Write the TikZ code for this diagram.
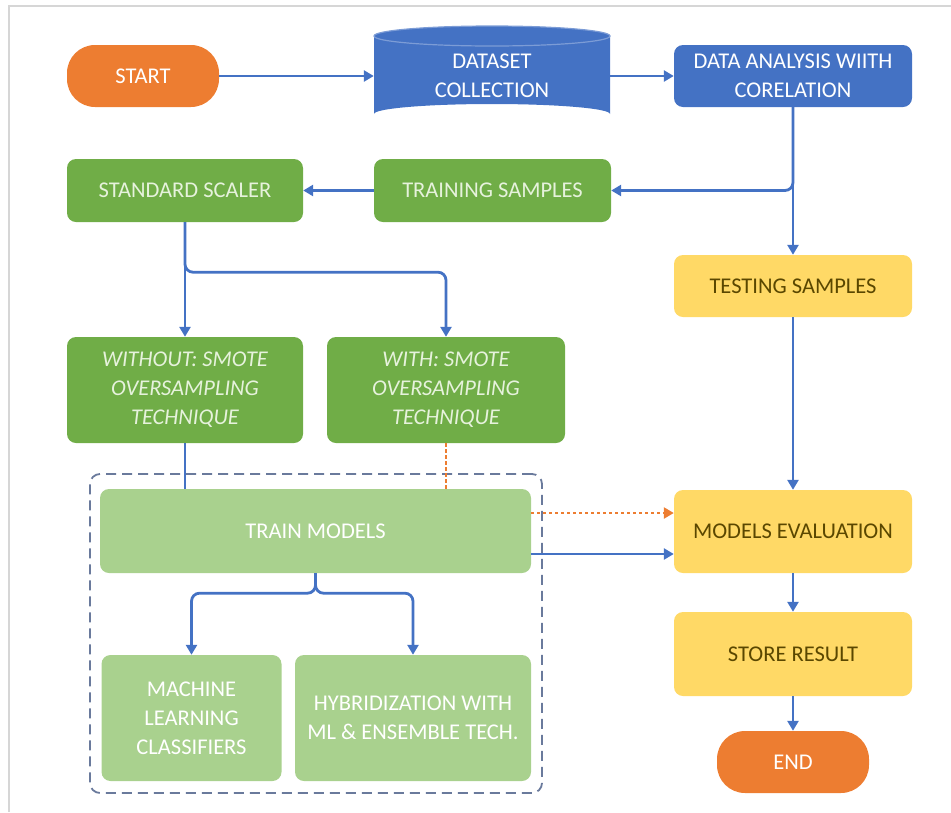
\documentclass[tikz,border=0pt]{standalone}
\usepackage{fontspec}
\setmainfont{Carlito}
\usetikzlibrary{arrows.meta,calc}
\definecolor{cblue}{HTML}{4472C4}
\definecolor{corange}{HTML}{ED7D31}
\definecolor{cgreen}{HTML}{70AD47}
\definecolor{clgreen}{HTML}{A9D18E}
\definecolor{cyellow}{HTML}{FFD966}
\definecolor{cytext}{HTML}{5A4700}
\definecolor{cgtext}{HTML}{E6F2DC}
\definecolor{cdash}{HTML}{6A7A9C}
\definecolor{cframe}{HTML}{D6D6D6}
\begin{document}
\begin{tikzpicture}[x=1pt,y=-1pt,
  every node/.style={font=\fontsize{22.5}{29}\selectfont, align=center, inner sep=0pt},
  boxbase/.style={rounded corners=9pt},
  bluebox/.style={boxbase, fill=cblue, text=white},
  greenbox/.style={boxbase, fill=cgreen, text=cgtext},
  lgbox/.style={boxbase, fill=clgreen, text=white},
  yelbox/.style={boxbase, fill=cyellow, text=cytext},
  termbox/.style={rounded corners=28pt, fill=corange, text=white, minimum width=152pt, minimum height=62pt},
  groupbox/.style={draw=cdash, line width=1.8pt, dash pattern=on 10pt off 6pt, rounded corners=10pt},
  arr/.style={draw=cblue, line width=2.8pt, -{Triangle[length=10pt,width=11pt]}},
  plain/.style={draw=cblue, line width=2.8pt},
  odot/.style={draw=corange, line width=2.4pt, dash pattern=on 3pt off 3pt, -{Triangle[length=10pt,width=11pt]}},
  odash/.style={draw=corange, line width=1.4pt, dash pattern=on 4pt off 2pt}
]
\useasboundingbox (0,0) rectangle (951,812);
\draw[cframe, line width=1.5pt] (9,812) -- (9,6) -- (951,6);

% cylinder
\fill[cblue] (374,36) -- (374,114) arc[start angle=180,end angle=360,x radius=118,y radius=10] -- (610,36) arc[start angle=0,end angle=180,x radius=118,y radius=10] -- cycle;
\fill[cblue] (492,36) ellipse[x radius=118,y radius=10];
\draw[cblue!70!white, line width=1.2pt] (492,36) ellipse[x radius=118,y radius=10];

\node[termbox] (start) at (143,76) {START};
\node[text=white, minimum width=236pt, minimum height=84pt] (dataset) at (492,76) {DATASET\\COLLECTION};
\node[bluebox, minimum width=238pt, minimum height=62pt] (analysis) at (793,76) {DATA ANALYSIS WIITH\\CORELATION};
\node[greenbox, minimum width=236pt, minimum height=63pt] (scaler) at (185,190.5) {STANDARD SCALER};
\node[greenbox, minimum width=237pt, minimum height=63pt] (training) at (492.5,190.5) {TRAINING SAMPLES};
\node[yelbox, minimum width=238pt, minimum height=62pt] (testing) at (793,286) {TESTING SAMPLES};
\node[greenbox, minimum width=236pt, minimum height=106pt, font=\fontsize{22.5}{29}\selectfont\itshape] (without) at (185,390) {WITHOUT: SMOTE\\OVERSAMPLING\\TECHNIQUE};
\node[greenbox, minimum width=238pt, minimum height=106pt, font=\fontsize{22.5}{29}\selectfont\itshape] (with) at (446,390) {WITH: SMOTE\\OVERSAMPLING\\TECHNIQUE};
\node[groupbox, minimum width=452pt, minimum height=319pt] (group) at (316,633.5) {};
\node[lgbox, minimum width=431pt, minimum height=84pt] (train) at (315.5,531) {TRAIN MODELS};
\node[lgbox, minimum width=180pt, minimum height=126pt] (ml) at (191.5,718) {MACHINE\\LEARNING\\CLASSIFIERS};
\node[lgbox, minimum width=236pt, minimum height=126pt] (hyb) at (413,718) {HYBRIDIZATION WITH\\ML \& ENSEMBLE TECH.};
\node[yelbox, minimum width=238pt, minimum height=83pt] (eval) at (793,531.5) {MODELS EVALUATION};
\node[yelbox, minimum width=238pt, minimum height=84pt] (store) at (793,654) {STORE RESULT};
\node[termbox] (end) at (793,762) {END};

% connectors
\draw[arr] (start.east) -- (start.east -| dataset.west);
\draw[arr] (analysis.west -| dataset.east) -- (analysis.west);
\draw[arr, rounded corners=8pt] (analysis.south) |- (training.east);
\draw[arr] (analysis.south) -- (testing.north);
\draw[arr] (training.west) -- (scaler.east);
\coordinate (br) at ($(scaler.south)+(0,50)$);
\draw[arr] (scaler.south) -- (without.north);
\draw[arr, rounded corners=8pt] (scaler.south) -- (br) -| (with.north);
\draw[plain] (without.south) -- (without.south |- train.north);
\draw[odash] (with.south) -- (with.south |- train.north);
\draw[odot] ([yshift=18pt]train.east) -- ([yshift=18pt]train.east -| eval.west);
\draw[arr] ([yshift=-23pt]train.east) -- ([yshift=-23pt]train.east -| eval.west);
\draw[arr] (testing.south) -- (eval.north);
\coordinate (bj) at ($(train.south)+(0,20)$);
\draw[arr, rounded corners=8pt] (train.south) -- (bj) -| (ml.north);
\draw[arr, rounded corners=8pt] (train.south) -- (bj) -| (hyb.north);
\draw[arr] (eval.south) -- (store.north);
\draw[arr] (store.south) -- (end.north);
\end{tikzpicture}
\end{document}
